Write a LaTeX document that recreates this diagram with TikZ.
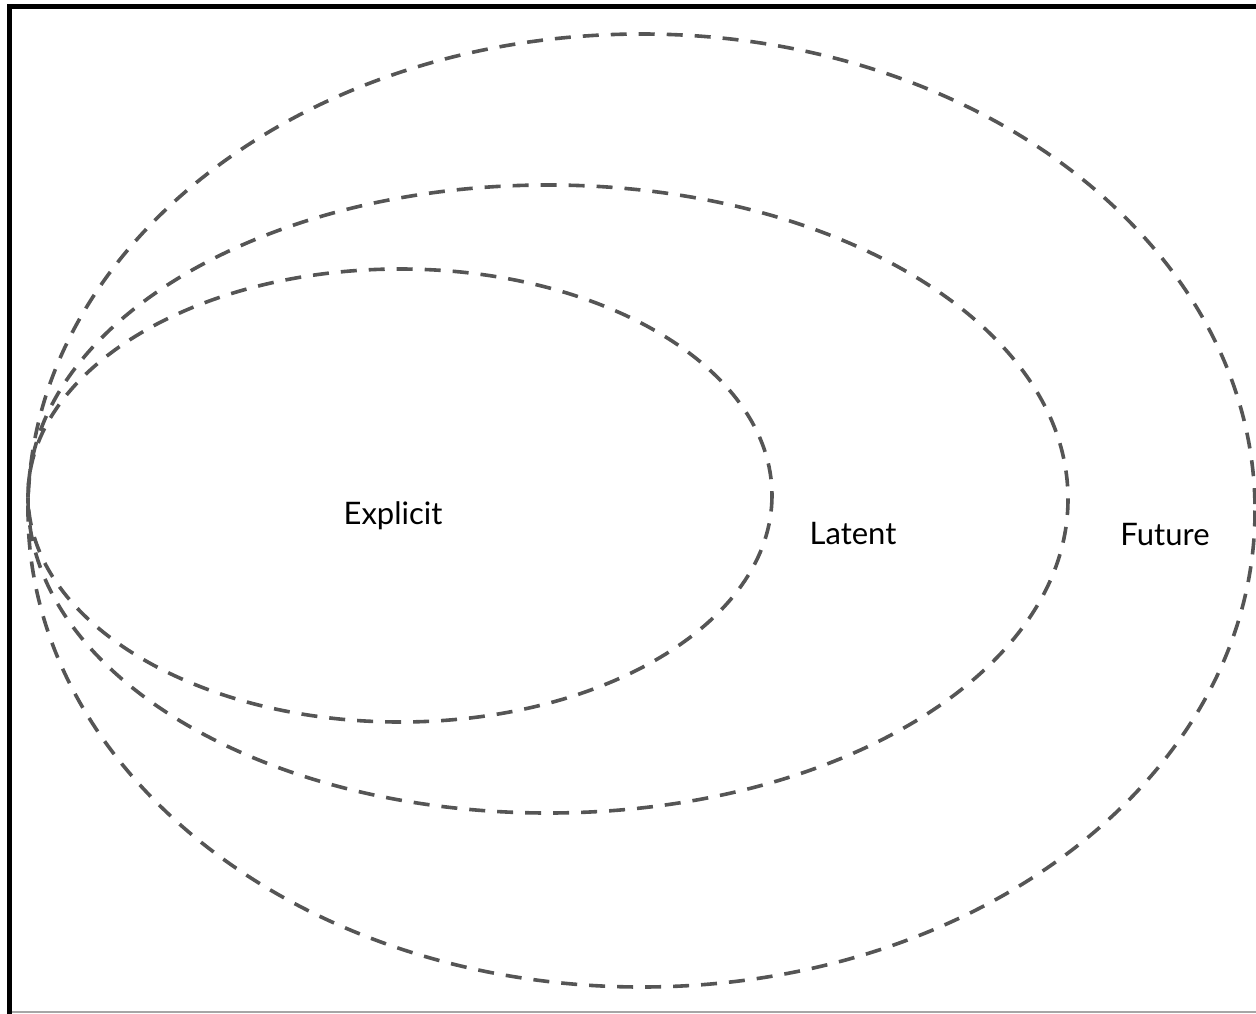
\documentclass[tikz,border=0pt]{standalone}
\usepackage{fontspec}
\setmainfont{Lato}
\definecolor{ringgray}{HTML}{555555}
\begin{document}
\begin{tikzpicture}[x=1pt,y=-1pt,
  ring/.style={draw=ringgray,line width=3.6pt,dash pattern=on 16pt off 12pt},
  lbl/.style={font=\fontsize{31}{36}\selectfont,text=black,inner sep=0pt}]
\useasboundingbox (0,0) rectangle (1256,1014);
\draw[line width=5pt,line cap=rect] (9.5,1014) -- (9.5,6.5) -- (1260,6.5);
\draw[line width=1.5pt,gray!70] (12,1012) -- (1256,1012);
\draw[ring] (641.5,510.5) ellipse [x radius=613.5,y radius=476.5];
\draw[ring] (548,499) ellipse [x radius=520,y radius=314];
\draw[ring] (400,495.5) ellipse [x radius=372,y radius=226.5];
\node[lbl] (explicit) at (393,516) {Explicit};
\node[lbl] (latent) at (853,534) {Latent};
\node[lbl] (future) at (1165,535) {Future};
\end{tikzpicture}
\end{document}
